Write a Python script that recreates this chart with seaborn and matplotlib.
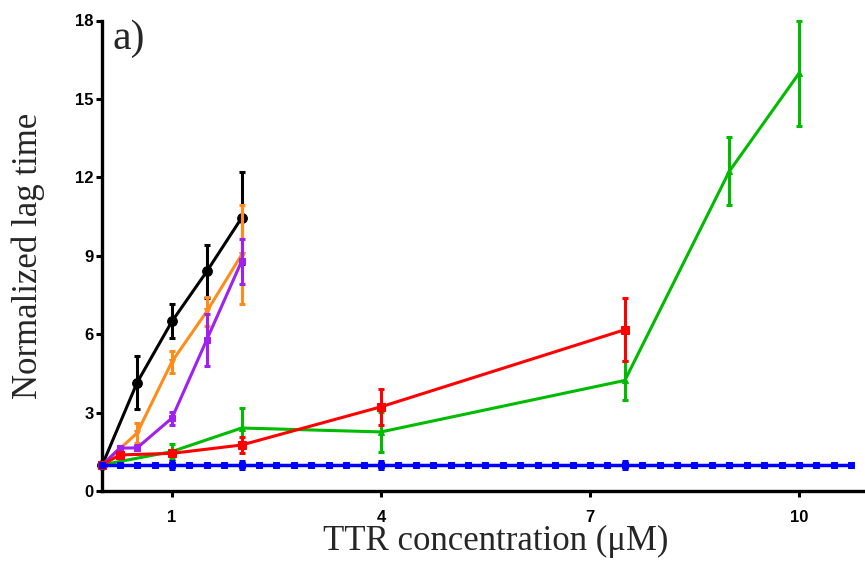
import matplotlib
matplotlib.use("Agg")
import matplotlib.pyplot as plt
import seaborn as sns
import pandas as pd

# ---- data ----
black_x = [0, 0.5, 1, 1.5, 2]
black_y = [1.0, 4.15, 6.49, 8.40, 10.45]
black_err = [0.0, 1.03, 0.65, 1.03, 1.75]

orange_x = [0, 0.5, 1, 1.5, 2]
orange_y = [1.0, 2.22, 4.95, 6.87, 9.04]
orange_err = [0.0, 0.38, 0.42, 0.57, 1.9]

purple_x = [0, 0.25, 0.5, 1, 1.5, 2]
purple_y = [1.0, 1.64, 1.65, 2.79, 5.79, 8.79]
purple_err = [0.0, 0.1, 0.1, 0.25, 0.99, 0.86]

green_x = [0, 1, 2, 4, 7.5, 9, 10]
green_y = [1.0, 1.51, 2.41, 2.26, 4.23, 12.23, 15.98]
green_err = [0.0, 0.27, 0.78, 0.75, 0.73, 1.3, 2.0]

red_x = [0, 0.25, 1, 2, 4, 7.5]
red_y = [1.0, 1.38, 1.44, 1.76, 3.22, 6.17]
red_err = [0.0, 0.08, 0.12, 0.30, 0.69, 1.2]

blue_x = [0, 0.25, 0.5, 0.75, 1, 1.25, 1.5, 1.75, 2, 2.25, 2.5, 2.75, 3, 3.25,
          3.5, 3.75, 4, 4.25, 4.5, 4.75, 5, 5.25, 5.5, 5.75, 6, 6.25, 6.5, 6.75,
          7, 7.25, 7.5, 7.75, 8, 8.25, 8.5, 8.75, 9, 9.25, 9.5, 9.75, 10, 10.25,
          10.5, 10.75]
blue_y = [1.0, 1.0, 1.0, 1.0, 1.0, 1.0, 1.0, 1.0, 1.0, 1.0, 1.0, 1.0, 1.0, 1.0,
          1.0, 1.0, 1.0, 1.0, 1.0, 1.0, 1.0, 1.0, 1.0, 1.0, 1.0, 1.0, 1.0, 1.0,
          1.0, 1.0, 1.0, 1.0, 1.0, 1.0, 1.0, 1.0, 1.0, 1.0, 1.0, 1.0, 1.0, 1.0,
          1.0, 1.0]
blue_err_x = [1, 2, 4, 7.5]
blue_err_y = [1.0, 1.0, 1.0, 1.0]
blue_err = [0.15, 0.15, 0.15, 0.15]

x_ticks = [1, 4, 7, 10]
y_ticks = [0, 3, 6, 9, 12, 15, 18]

# ---- style ----
sns.set_style("ticks")
plt.rcParams["font.family"] = ["Liberation Sans", "DejaVu Sans"]

fig = plt.figure(figsize=(8.65, 5.61), dpi=100)
ax = fig.add_axes([102.3 / 865, 70 / 561, 1 - 102.3 / 865, (491 - 20.5) / 561])

series = [
    (black_x, black_y, black_err, "#000000", "o", 7),
    (orange_x, orange_y, orange_err, "#FF8C1A", "v", 5),
    (purple_x, purple_y, purple_err, "#A020F0", "s", 5),
    (green_x, green_y, green_err, "#00BB00", "^", 5),
    (red_x, red_y, red_err, "#FF0000", "s", 5.5),
]

for xs, ys, es, col, mk, ms in series:
    df = pd.DataFrame({"x": xs, "y": ys})
    sns.lineplot(data=df, x="x", y="y", ax=ax, color=col, marker=mk,
                 markersize=ms, markeredgecolor=col, linewidth=2.2,
                 clip_on=False, zorder=3)
    ax.errorbar(xs, ys, yerr=es, fmt="none", ecolor=col, elinewidth=2.2,
                capsize=2.5, capthick=2.2, clip_on=False, zorder=3)

dfb = pd.DataFrame({"x": blue_x, "y": blue_y})
sns.lineplot(data=dfb, x="x", y="y", ax=ax, color="#0000FF", marker="s",
             markersize=4, markeredgecolor="#0000FF", linewidth=2.5,
             clip_on=False, zorder=4)
ax.errorbar(blue_err_x, blue_err_y, yerr=blue_err, fmt="none", ecolor="#0000FF",
            elinewidth=2.2, capsize=2.5, capthick=2.2, zorder=4)

ax.set_xlim(0, (865 - 102.3) / 69.67)
ax.set_ylim(0, 18)
ax.set_xticks(x_ticks)
ax.set_xticklabels([str(t) for t in x_ticks], fontweight="bold", fontsize=12)
ax.set_yticks(y_ticks)
ax.set_yticklabels([str(t) for t in y_ticks], fontweight="bold", fontsize=12)

for s in ["top", "right"]:
    ax.spines[s].set_visible(False)
for s in ["left", "bottom"]:
    ax.spines[s].set_linewidth(2.4)
    ax.spines[s].set_color("black")
ax.tick_params(axis="x", length=4, width=2.2, pad=10, colors="black")
ax.tick_params(axis="y", length=4, width=2.2, pad=2, colors="black")

ax.set_xlabel("TTR concentration (\u03bcM)", fontsize=25,
              family=["Liberation Serif", "DejaVu Serif"])
ax.xaxis.set_label_coords((496 - 102.3) / 762.7, -(541 - 491) / 470.5)
ax.xaxis.label.set_va("center")
ax.set_ylabel("Normalized lag time", fontsize=25,
              family=["Liberation Serif", "DejaVu Serif"], va="center")
ax.yaxis.set_label_coords((28 - 102.3) / 762.7, 0.5)

ax.text(113 / 865, 1 - 39 / 561, "a)", transform=fig.transFigure,
        fontsize=30, family=["Liberation Serif", "DejaVu Serif"],
        ha="left", va="center")

fig.savefig("out.png", dpi=100)
